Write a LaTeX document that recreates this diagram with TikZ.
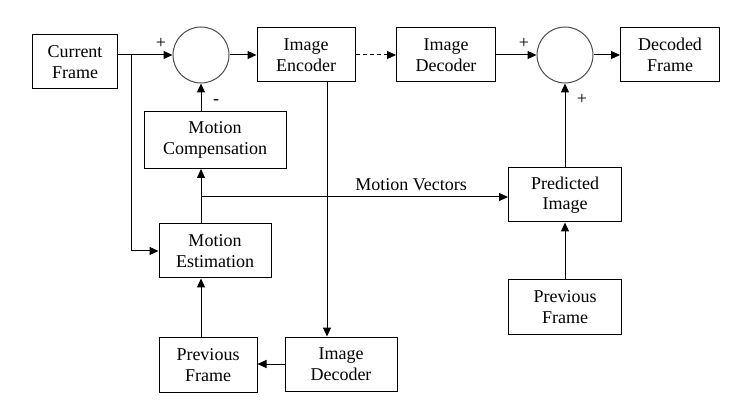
\documentclass[tikz,border=0pt]{standalone}
\usepackage{fontspec}
\setmainfont{Liberation Serif}
\usetikzlibrary{arrows.meta}

\begin{document}
\begin{tikzpicture}[x=1pt, y=-1pt, line width=1pt,
    >={Triangle[length=9pt, width=8pt]},
    blk/.style={draw, align=center, inner sep=0pt, font=\fontsize{18}{20.5}\selectfont},
    sum/.style={draw=black!70, circle, minimum size=56pt, inner sep=0pt},
    lbl/.style={inner sep=0pt, font=\fontsize{18}{20}\selectfont}]
    \useasboundingbox (0,0) rectangle (746,411);

    % Blocos
    \node[blk, minimum width=85pt, minimum height=54pt] (cf) at (75,62) {Current\\Frame};
    \node[sum] (sum1) at (201,55) {};
    \node[blk, minimum width=98pt, minimum height=54pt] (enc) at (306,55) {Image\\Encoder};
    \node[blk, minimum width=99pt, minimum height=54pt] (dec1) at (446,55) {Image\\Decoder};
    \node[sum] (sum2) at (565,55) {};
    \node[blk, minimum width=99pt, minimum height=54pt] (out) at (670,55) {Decoded\\Frame};
    \node[blk, minimum width=142pt, minimum height=57pt] (mc) at (215,140) {Motion\\Compensation};
    \node[blk, minimum width=112pt, minimum height=54pt] (me) at (215,251) {Motion\\Estimation};
    \node[blk, minimum width=98pt, minimum height=55pt] (pf1) at (208,365) {Previous\\Frame};
    \node[blk, minimum width=112pt, minimum height=54pt] (dec2) at (341,364) {Image\\Decoder};
    \node[blk, minimum width=113pt, minimum height=54pt] (pi) at (565,195) {Predicted\\Image};
    \node[blk, minimum width=113pt, minimum height=54pt] (pf2) at (565,307) {Previous\\Frame};

    \coordinate (br) at (131,55);
    \coordinate (mv) at (201,197);

    % Codificador
    \draw[->] (cf.east |- sum1) -- (sum1.west);
    \draw[->] (br) |- (me.west);
    \draw[->] (sum1) -- (enc);
    \draw[->, dash pattern=on 4pt off 3pt] (enc) -- (dec1);
    \draw[->] (mc.north -| sum1) -- (sum1.south);
    \draw[->] (me.north -| sum1) -- (mc.south -| sum1);
    \draw[->] (mv) -- (mv -| pi.west);
    \draw[->] (pf1.north -| sum1) -- (me.south -| sum1);
    \draw[->] ([xshift=21pt]enc.south) -- ([xshift=21pt]enc.south |- dec2.north);
    \draw[->] (dec2.west) -- (dec2.west -| pf1.east);

    % Decodificador
    \draw[->] (dec1) -- (sum2);
    \draw[->] (sum2) -- (out);
    \draw[->] (pi) -- (sum2);
    \draw[->] (pf2) -- (pi);

    % Sinais
    \node[lbl] (p1) at (161,43) {+};
    \node[lbl] (m1) at (216,102) {-};
    \node[lbl] (p2) at (524,43) {+};
    \node[lbl] (p3) at (582,99) {+};
    \node[lbl] (mvl) at (411,185) {Motion Vectors};
\end{tikzpicture}
\end{document}
